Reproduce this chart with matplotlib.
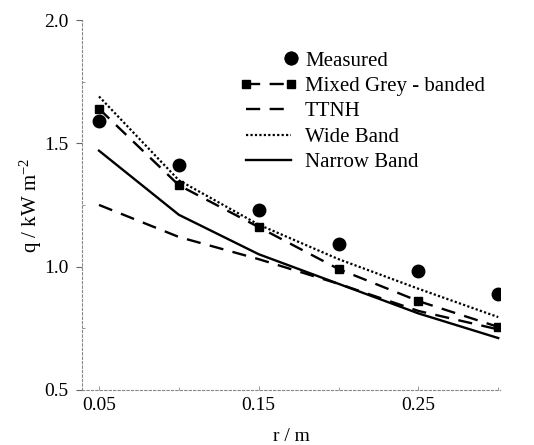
import matplotlib
matplotlib.use('Agg')
import matplotlib.pyplot as plt
from matplotlib.legend_handler import HandlerLine2D
from matplotlib.ticker import MultipleLocator, FormatStrFormatter

plt.rcParams['font.family'] = ['Liberation Serif', 'DejaVu Serif']
plt.rcParams['mathtext.default'] = 'regular'

# radius (m)
r = [0.05, 0.10, 0.15, 0.20, 0.25, 0.30]

# heat flux q (kW m^-2)
measured = [1.59, 1.41, 1.23, 1.09, 0.98, 0.89]
mixed_grey = [1.64, 1.33, 1.16, 0.99, 0.86, 0.755]
ttnh = [1.25, 1.12, 1.03, 0.93, 0.82, 0.745]
wide_band = [1.69, 1.35, 1.17, 1.03, 0.91, 0.795]
narrow_band = [1.47, 1.21, 1.05, 0.93, 0.81, 0.71]


# marker sits at the right end of the handle, like the original
class RightMarker(HandlerLine2D):
    def get_xdata(self, legend, xdescent, ydescent, width, height, fontsize):
        xm = -xdescent + width - 0.3 * fontsize
        return [xm, xm], [xm, xm]


fig = plt.figure(figsize=(5.34, 4.45), dpi=100)
ax = fig.add_axes([0.154, 0.124, 0.782, 0.831])

ax.plot(r, measured, 'o', color='black', ms=9, label='Measured')
ax.plot(r, mixed_grey, color='black', lw=1.7, ls=(0, (6, 4)),
        marker='s', ms=6, label='Mixed Grey - banded')
ax.plot(r, ttnh, color='black', lw=1.7, ls=(0, (6, 4)), label='TTNH')
ax.plot(r, wide_band, color='black', lw=1.6, ls=(0, (1, 1)), label='Wide Band')
ax.plot(r, narrow_band, color='black', lw=1.7, ls='-', label='Narrow Band')

ax.set_xlim(0.0395, 0.301)
ax.set_ylim(0.5, 2.0)
ax.set_xticks([0.05, 0.15, 0.25])
ax.xaxis.set_minor_locator(MultipleLocator(0.05))
ax.xaxis.set_major_formatter(FormatStrFormatter('%.2f'))
ax.yaxis.set_major_locator(MultipleLocator(0.5))
ax.yaxis.set_minor_locator(MultipleLocator(0.25))
ax.yaxis.set_major_formatter(FormatStrFormatter('%.1f'))

for s in ['top', 'right']:
    ax.spines[s].set_visible(False)
for s in ['left', 'bottom']:
    ax.spines[s].set_linestyle((0, (2, 2)))
    ax.spines[s].set_color('#888888')
    ax.spines[s].set_linewidth(0.8)

ax.tick_params(axis='y', which='major', direction='out', length=4, width=0.8,
               color='#666666', labelsize=14, pad=6)
ax.tick_params(axis='y', which='minor', direction='in', length=2, width=0.6,
               color='#888888')
ax.tick_params(axis='x', which='major', direction='in', length=3, width=0.6,
               color='#888888', labelsize=14, pad=5)
ax.tick_params(axis='x', which='minor', direction='in', length=2, width=0.6,
               color='#888888')

ax.set_xlabel('r / m', fontsize=14, labelpad=10)
ax.set_ylabel('q / kW m$^{-2}$', fontsize=15, labelpad=0)

handles, labels = ax.get_legend_handles_labels()
ax.legend(handles, labels, loc='upper left', numpoints=2,
          bbox_to_anchor=(240 / 534, 1 - 51 / 445), bbox_transform=fig.transFigure,
          frameon=False, fontsize=15, handlelength=2.74, handletextpad=0.38,
          labelspacing=0.28, borderpad=0, borderaxespad=0,
          handler_map={handles[0]: RightMarker(numpoints=2)})

fig.savefig('out.png', dpi=100)
